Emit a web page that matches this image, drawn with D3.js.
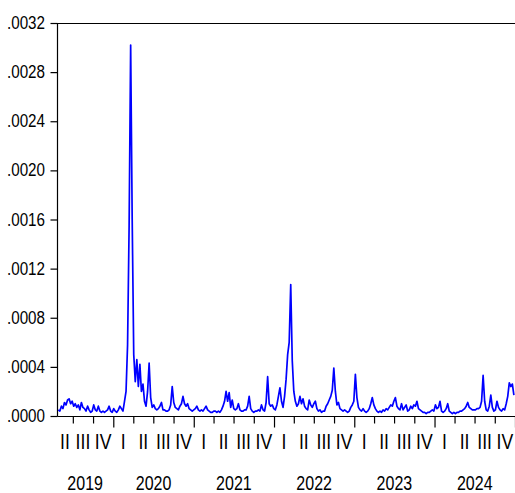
<!DOCTYPE html>
<html>
<head>
<meta charset="utf-8">
<script src="https://cdn.jsdelivr.net/npm/d3@7"></script>
<style>
  body { margin: 0; background: #fff; }
  svg { display: block; }
  text { font-family: "Liberation Sans", Arial, sans-serif; fill: #000; }
</style>
</head>
<body>
<svg></svg>
<script>
const width = 515;
const height = 493;

// weekly series, first point 2019-04-26
const seriesStart = new Date(2019, 3, 26);
const stepDays = 7;
const values = [
  .00005, .00004, .00008, .00006, .00011, .00009, .00013, .00014, .00010, .00012,
  .00008, .00010, .00007, .00009, .00005, .00011, .00007, .00006, .00004, .00008,
  .00005, .00003, .00004, .00009, .00005, .00004, .00008, .00004, .00003, .00004,
  .00003, .00004, .00005, .00008, .00004, .00003, .00006, .00004, .00003, .00005,
  .00008, .00006, .00004, .00012, .00020, .00058, .00155, .00302, .00160, .00050,
  .00028, .00046, .00024, .00042, .00020, .00026, .00012, .00008, .00020, .00043,
  .00015, .00007, .00009, .00006, .00005, .00006, .00008, .00011, .00005, .00005,
  .00004, .00004, .00005, .00009, .00024, .00011, .00007, .00006, .00005, .00008,
  .00010, .00016, .00010, .00008, .00010, .00006, .00005, .00004, .00005, .00006,
  .00008, .00005, .00004, .00005, .00004, .00006, .00008, .00005, .00004, .00003,
  .00003, .00004, .00004, .00003, .00004, .00003, .00005, .00008, .00012, .00020,
  .00012, .00019, .00007, .00013, .00006, .00005, .00006, .00010, .00005, .00004,
  .00004, .00005, .00005, .00008, .00016, .00006, .00004, .00003, .00004, .00004,
  .00005, .00004, .00009, .00005, .00004, .00011, .00032, .00010, .00008, .00009,
  .00006, .00005, .00009, .00016, .00023, .00012, .00007, .00016, .00030, .00050,
  .00060, .00107, .00045, .00020, .00012, .00008, .00010, .00016, .00010, .00014,
  .00008, .00006, .00005, .00013, .00009, .00007, .00010, .00012, .00006, .00004,
  .00005, .00003, .00004, .00004, .00008, .00010, .00013, .00016, .00021, .00039,
  .00020, .00009, .00011, .00006, .00005, .00004, .00005, .00004, .00003, .00004,
  .00007, .00009, .00012, .00034, .00015, .00007, .00005, .00004, .00006, .00004,
  .00003, .00004, .00006, .00010, .00015, .00009, .00006, .00004, .00003, .00004,
  .00003, .00005, .00004, .00006, .00005, .00007, .00009, .00008, .00012, .00015,
  .00008, .00006, .00005, .00010, .00005, .00007, .00009, .00004, .00005, .00008,
  .00006, .00009, .00008, .00012, .00006, .00005, .00004, .00003, .00003, .00002,
  .00003, .00003, .00004, .00005, .00004, .00009, .00006, .00007, .00012, .00004,
  .00003, .00004, .00006, .00010, .00004, .00003, .00002, .00003, .00002, .00003,
  .00003, .00004, .00004, .00005, .00006, .00008, .00011, .00007, .00006, .00005,
  .00005, .00005, .00006, .00006, .00007, .00012, .00033, .00012, .00005, .00004,
  .00008, .00017, .00007, .00004, .00005, .00012, .00007, .00005, .00004, .00006,
  .00005, .00010, .00016, .00027, .00024, .00026, .00017
];

const yTicks = [0, .0004, .0008, .0012, .0016, .0020, .0024, .0028, .0032];
const years = [2019, 2020, 2021, 2022, 2023, 2024];
const quarterNames = ["I", "II", "III", "IV"];

const plot = { left: 57, right: 515, top: 23, bottom: 416 };
const squeeze = 0.8; // labels are drawn in a narrow face

const svg = d3.select("svg")
  .attr("width", width)
  .attr("height", height);

const x = d3.scaleTime()
  .domain([new Date(2019, 3, 20), new Date(2025, 0, 1)])
  .range([plot.left, plot.right]);

const y = d3.scaleLinear()
  .domain([0, .0032])
  .range([plot.bottom, plot.top]);

const data = values.map((v, i) => ({ date: d3.timeDay.offset(seriesStart, i * stepDays), value: v }));

function narrowText(g, items, px, py, size, anchor) {
  g.selectAll("text")
    .data(items)
    .join("text")
    .attr("transform", d => `translate(${px(d)},${py(d)}) scale(${squeeze},1)`)
    .attr("text-anchor", anchor)
    .attr("font-size", size)
    .text(d => d.label);
}

// frame
svg.append("path")
  .attr("d", `M${plot.left + .5},${plot.bottom + .5}V${plot.top + .5}H${plot.right + 1}`)
  .attr("fill", "none")
  .attr("stroke", "#000")
  .attr("stroke-width", 1.2);
svg.append("path")
  .attr("d", `M${plot.left + .5},${plot.bottom + .5}H${plot.right + 1}`)
  .attr("stroke", "#000")
  .attr("stroke-width", 1.2);

// y axis
const yAxis = svg.append("g")
  .attr("transform", `translate(${plot.left + .5},0)`)
  .call(d3.axisLeft(y).tickValues(yTicks).tickSize(7).tickFormat(""));
yAxis.select(".domain").remove();
yAxis.selectAll("line").attr("stroke-width", 1.2);

narrowText(svg.append("g"),
  yTicks.map(v => ({ v, label: d3.format(".4f")(v).replace(/^0/, "") })),
  d => 45, d => y(d.v) + 6, 19, "end");

// x axis: quarter ticks, longer at each new year
const quarterStarts = [];
years.concat([2025]).forEach(yr => {
  quarterNames.forEach((q, k) => {
    const d = new Date(yr, k * 3, 1);
    if (d > x.domain()[0] && d <= x.domain()[1]) quarterStarts.push(d);
  });
});

const xAxis = svg.append("g")
  .attr("transform", `translate(0,${plot.bottom + .5})`)
  .call(d3.axisBottom(x).tickValues(quarterStarts).tickSize(7).tickFormat(""));
xAxis.select(".domain").remove();
xAxis.selectAll(".tick line")
  .attr("stroke-width", 1.2)
  .attr("y2", d => d.getMonth() === 0 ? 11 : 7);

// quarter labels, centred in the visible part of each quarter
const quarterCells = [];
years.forEach(yr => {
  quarterNames.forEach((q, k) => {
    const a = new Date(yr, k * 3, 1), b = new Date(yr, k * 3 + 3, 1);
    if (b <= x.domain()[0]) return;
    const a2 = a < x.domain()[0] ? x.domain()[0] : a;
    quarterCells.push({ label: q, mid: (x(a2) + x(b)) / 2 });
  });
});
narrowText(svg.append("g"), quarterCells, d => d.mid, d => 449, 22, "middle");

// year labels
const yearCells = years.map(yr => {
  const a = Math.max(x(new Date(yr, 0, 1)), plot.left);
  return { label: String(yr), mid: (a + x(new Date(yr + 1, 0, 1))) / 2 };
});
narrowText(svg.append("g"), yearCells, d => d.mid, d => 490, 20, "middle");

// series
svg.append("path")
  .datum(data)
  .attr("fill", "none")
  .attr("stroke", "#0000ff")
  .attr("stroke-width", 1.7)
  .attr("stroke-linejoin", "round")
  .attr("d", d3.line().x(d => x(d.date)).y(d => y(d.value)));
</script>
</body>
</html>
